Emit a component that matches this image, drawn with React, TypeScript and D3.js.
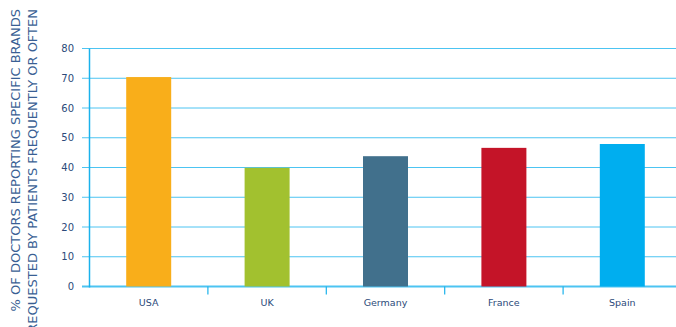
import React from "react";
import * as d3 from "d3";

const categories = ["USA", "UK", "Germany", "France", "Spain"];
const values = [70.4, 39.9, 43.8, 46.6, 47.9];
const colors = ["#F9AE1A", "#A2C12F", "#41708C", "#C41428", "#00AEEF"];
const yTicks = [0, 10, 20, 30, 40, 50, 60, 70, 80];
const titleLines = [
  "% OF DOCTORS REPORTING SPECIFIC BRANDS",
  "REQUESTED BY PATIENTS FREQUENTLY OR OFTEN",
];

export default function App() {
  const W = 676, H = 327;
  const x0 = 89.5, x1 = 681.5;
  const y = d3.scaleLinear().domain([0, 80]).range([286.5, 48.5]);
  const x = d3.scaleBand<string>().domain(categories).range([x0, x1]).paddingInner(0.62).paddingOuter(0.31);
  const step = x.step();
  const bounds = d3.range(categories.length + 1).map((i) => x0 + i * step);
  const font = "'DejaVu Sans', Verdana, sans-serif";
  return (
    <svg width={W} height={H} style={{ position: "absolute", left: 0, top: 0 }}>
      {yTicks.map((t) => (
        <g key={t}>
          <line x1={82} x2={W} y1={y(t)} y2={y(t)} stroke="#4cc4f2" strokeWidth={t === 0 ? 2 : 1} />
          <text x={74} y={y(t)} dy="0.35em" textAnchor="end" fontSize={10} fill="#2c4a7a" fontFamily={font}>{t}</text>
        </g>
      ))}
      {categories.map((c, i) => (
        <rect key={c} x={x(c)} width={x.bandwidth()} y={y(values[i])} height={y(0) - y(values[i])} fill={colors[i]} />
      ))}
      <line x1={x0} x2={x0} y1={y(80)} y2={y(0) + 1} stroke="#1ab2ec" strokeWidth={1.5} />
      {bounds.slice(1).map((b, i) => (
        <line key={i} x1={b} x2={b} y1={y(0)} y2={y(0) + 8} stroke="#1ab2ec" strokeWidth={1.2} />
      ))}
      {categories.map((c) => (
        <text key={c} x={(x(c) as number) + x.bandwidth() / 2} y={306} textAnchor="middle" fontSize={9.5} fill="#2c4a7a" fontFamily={font}>{c}</text>
      ))}
      {titleLines.map((l, i) => (
        <text key={i} transform={`translate(${19.5 + i * 17},9) rotate(-90)`} textAnchor="end" fontSize={13} fill="#3a5f94" fontFamily={font}>{l}</text>
      ))}
    </svg>
  );
}
